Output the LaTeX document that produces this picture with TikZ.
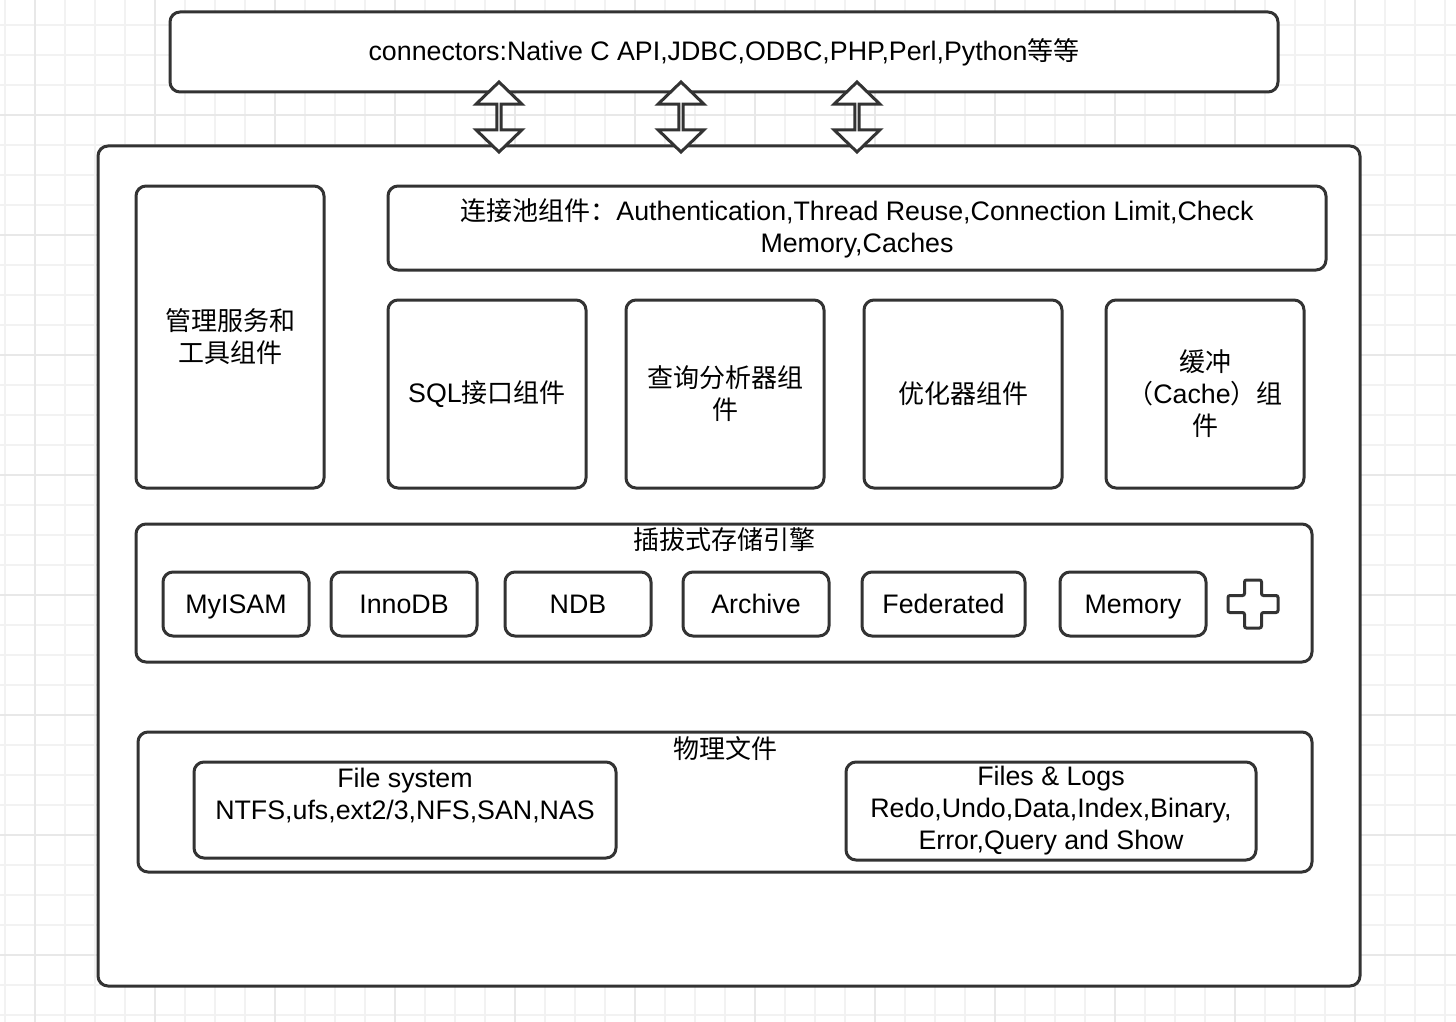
\documentclass[tikz,border=0pt]{standalone}
\usepackage{fontspec}
\setmainfont[Scale=1.03]{Liberation Sans}
\newfontfamily\cjk{Noto Sans CJK SC}
\usetikzlibrary{positioning,shapes.arrows}

\definecolor{linegray}{HTML}{333333}
\definecolor{gridminor}{HTML}{F2F2F2}
\definecolor{gridmajor}{HTML}{E8E8E8}
\newcommand\zh[1]{{\cjk #1}}
\newcommand\fs{\fontsize{13pt}{16pt}\selectfont}

\tikzset{
  box/.style = {draw=linegray, line width=1.5pt, rounded corners=5pt,
    fill=white, inner sep=0pt, outer sep=0pt, align=center, font=\fs},
  comp/.style = {box, minimum width=99pt, minimum height=94pt},
  engine/.style = {box, minimum width=73pt, minimum height=32pt,
    text height=9.5pt, text depth=0.5pt},
  tag/.style = {inner sep=0pt, outer sep=0pt, align=center, font=\fs},
  fatarrow/.style = {double arrow, draw=linegray, line width=1.5pt,
    fill=white, rotate=90, minimum height=35pt, minimum width=23pt,
    double arrow head extend=7.5pt, double arrow tip angle=92,
    inner sep=0pt, outer sep=0pt},
  plusmark/.style = {draw=linegray, line width=1.5pt, fill=white,
    rounded corners=1pt}
}

\begin{document}
\begin{tikzpicture}[x=1pt, y=-1pt]
    \useasboundingbox (0,0) rectangle (728,511);
    \fill[white] (0,0) rectangle (728,511);

    % background grid
    \foreach \gx in {2.5,17.5,...,727.5}
      \draw[gridminor, line width=1pt] (\gx,0) -- (\gx,511);
    \foreach \gy in {12.5,27.5,...,510}
      \draw[gridminor, line width=1pt] (0,\gy) -- (728,\gy);
    \foreach \gx in {17.5,77.5,...,727.5}
      \draw[gridmajor, line width=1pt] (\gx,0) -- (\gx,511);
    \foreach \gy in {57.5,117.5,...,510}
      \draw[gridmajor, line width=1pt] (0,\gy) -- (728,\gy);

    \node (conn) [box, minimum width=554pt, minimum height=40pt] at (362,26)
    {connectors:Native C API,JDBC,ODBC,PHP,Perl,Python\zh{等等}};

    \node (server) [box, minimum width=631pt, minimum height=420pt,
    anchor=north west] at (49,73) {};

    \node (mgmt) [box, minimum width=94pt, minimum height=151pt,
    below right=20pt and 19pt of server.north west]
    {\zh{管理服务和}\\\zh{工具组件}};

    \node (pool) [box, minimum width=469pt, minimum height=42pt,
    right=32pt of mgmt.north east, anchor=north west]
    {\zh{连接池组件：}Authentication,Thread Reuse,Connection Limit,Check\\
      Memory,Caches};

    \node (sqlif) [comp, below=15pt of pool.south west, anchor=north west]
    {SQL\zh{接口组件}};

    \node (parser) [comp, right=20pt of sqlif] {\zh{查询分析器组}\\\zh{件}};

    \node (optim) [comp, right=20pt of parser] {\zh{优化器组件}};

    \node (cache) [comp, right=22pt of optim]
    {\zh{缓冲}\\\zh{（}Cache\zh{）组}\\\zh{件}};

    % storage engines
    \node (engines) [box, minimum width=588pt, minimum height=69pt,
    below=18pt of mgmt.south west, anchor=north west] {};

    \node (englabel) [tag, below=2pt of engines.north] {\zh{插拔式存储引擎}};

    \node (myisam) [engine, below right=24pt and 13.5pt of engines.north west]
    {MyISAM};
    \node (innodb) [engine, right=11pt of myisam] {InnoDB};
    \node (ndb) [engine, right=14pt of innodb] {NDB};
    \node (archive) [engine, right=16pt of ndb] {Archive};
    \node (federated) [engine, minimum width=81.5pt, right=16.5pt of archive]
    {Federated};
    \node (memory) [engine, right=17.5pt of federated] {Memory};

    \coordinate (more) at ([xshift=23.5pt]memory.east);
    \draw[plusmark] ([shift={(-4.25pt,12pt)}]more) -- ++(8.5pt,0pt)
    -- ++(0pt,-7.75pt) -- ++(8.25pt,0pt) -- ++(0pt,-8.5pt)
    -- ++(-8.25pt,0pt) -- ++(0pt,-7.75pt) -- ++(-8.5pt,0pt)
    -- ++(0pt,7.75pt) -- ++(-8.25pt,0pt) -- ++(0pt,8.5pt)
    -- ++(8.25pt,0pt) -- cycle;

    % physical files
    \node (phys) [box, minimum width=587pt, minimum height=70pt,
    below right=35pt and 1pt of engines.south west] {};

    \node (physlabel) [tag, below=2pt of phys.north] {\zh{物理文件}};

    \node (fsys) [box, minimum width=211pt, minimum height=48pt,
    below right=15pt and 28pt of phys.north west] {};

    \node (fstext) [tag, below=3pt of fsys.north]
    {File system\\NTFS,ufs,ext2/3,NFS,SAN,NAS};

    \node (fslogs) [box, minimum width=205pt, minimum height=49pt,
    right=115pt of fsys.north east, anchor=north west]
    {Files \& Logs\\Redo,Undo,Data,Index,Binary,\\Error,Query and Show};

    % double arrows between connectors and server
    \node (arrow1) [fatarrow] at (249.5,58.5) {};
    \node (arrow2) [fatarrow] at (340.5,58.5) {};
    \node (arrow3) [fatarrow] at (428.5,58.5) {};
  \end{tikzpicture}
\end{document}
